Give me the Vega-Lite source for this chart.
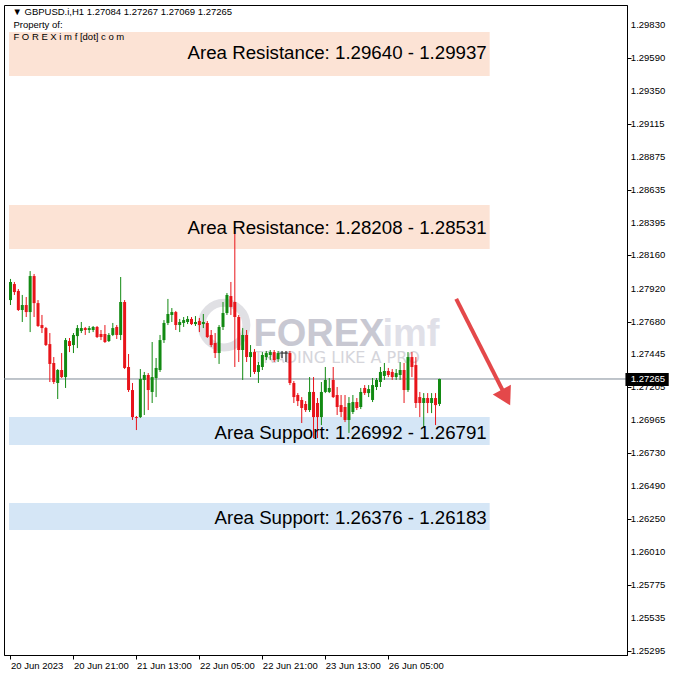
{
  "$schema": "https://vega.github.io/schema/vega-lite/v6.json",
  "width": 623,
  "height": 650,
  "autosize": {"type": "none"},
  "padding": {"left": 4, "top": 5, "right": 51, "bottom": 23},
  "background": "white",
  "config": {
    "view": {"stroke": "#000000", "strokeWidth": 1},
    "axis": {"domainColor": "#000000", "tickColor": "#000000", "labelColor": "#000000", "labelFont": "Liberation Sans", "labelFontSize": 9.5, "grid": false, "labelOverlap": false, "labelFlush": false, "labelBound": false}
  },
  "datasets": {
    "zones": [
      {"x1": -0.375, "x2": 121.75, "p1": 1.29779, "p2": 1.2946, "kind": "R"},
      {"x1": -0.375, "x2": 121.75, "p1": 1.28526, "p2": 1.28207, "kind": "R"},
      {"x1": -0.375, "x2": 121.75, "p1": 1.26989, "p2": 1.26787, "kind": "S"},
      {"x1": -0.375, "x2": 121.75, "p1": 1.26366, "p2": 1.26171, "kind": "S"}
    ],
    "yTicks": [
      {"x": 157.625, "v": 1.2983}, {"x": 157.625, "v": 1.2959}, {"x": 157.625, "v": 1.2935}, {"x": 157.625, "v": 1.29115},
      {"x": 157.625, "v": 1.28875}, {"x": 157.625, "v": 1.28635}, {"x": 157.625, "v": 1.28395}, {"x": 157.625, "v": 1.2816},
      {"x": 157.625, "v": 1.2792}, {"x": 157.625, "v": 1.2768}, {"x": 157.625, "v": 1.27445}, {"x": 157.625, "v": 1.27205},
      {"x": 157.625, "v": 1.26965}, {"x": 157.625, "v": 1.2673}, {"x": 157.625, "v": 1.2649}, {"x": 157.625, "v": 1.2625},
      {"x": 157.625, "v": 1.2601}, {"x": 157.625, "v": 1.25775}, {"x": 157.625, "v": 1.25535}, {"x": 157.625, "v": 1.25295}
    ],
    "zoneLabels": [
      {"x": 121, "p": 1.29627, "t": "Area Resistance: 1.29640 - 1.29937"},
      {"x": 121, "p": 1.28359, "t": "Area Resistance: 1.28208 - 1.28531"},
      {"x": 121, "p": 1.26874, "t": "Area Support: 1.26992 - 1.26791"},
      {"x": 121, "p": 1.26258, "t": "Area Support: 1.26376 - 1.26183"}
    ],
    "logo": [{"x": 54.25, "p": 1.27656}],
    "wmBig": [{"x": 61.75, "p": 1.27504, "t": "FOREX"}],
    "wmImf": [{"x": 94.5, "p": 1.27504, "t": "imf"}],
    "wmSmall": [{"x": 61.75, "p": 1.27415, "t": "TRADING LIKE A PRO"}],
    "header": [
      {"x": 0.5, "p": 1.29924, "t": "▼  GBPUSD.i,H1  1.27084 1.27267 1.27069 1.27265"},
      {"x": 0.75, "p": 1.2983, "t": "Property of:"},
      {"x": 0.75, "p": 1.29743, "t": "F O R E X i m f [dot] c o m"}
    ],
    "priceLine": [{"p": 1.27265}],
    "arrowLine": [{"x1": 113.25, "p1": 1.27845, "x2": 125.25, "p2": 1.27171}],
    "arrowHead": [{"x": 125.9, "p": 1.27131}],
    "priceBox": [{"x1": 156.25, "x2": 167.25, "p1": 1.27308, "p2": 1.27214}],
    "priceText": [{"x": 157.6, "p": 1.27262, "t": "1.27265"}],
    "candles": [
      {"i":0,"o":1.27837,"h":1.2799,"l":1.27801,"c":1.27968},
      {"i":1,"o":1.27953,"h":1.27968,"l":1.27874,"c":1.27895},
      {"i":2,"o":1.27903,"h":1.27917,"l":1.27758,"c":1.27765},
      {"i":3,"o":1.27765,"h":1.27874,"l":1.27678,"c":1.27801},
      {"i":4,"o":1.27801,"h":1.27859,"l":1.27714,"c":1.2775},
      {"i":5,"o":1.2775,"h":1.28047,"l":1.27605,"c":1.28011},
      {"i":6,"o":1.28011,"h":1.28026,"l":1.27714,"c":1.27815},
      {"i":7,"o":1.27815,"h":1.27837,"l":1.27642,"c":1.27649},
      {"i":8,"o":1.27656,"h":1.27729,"l":1.27598,"c":1.27634},
      {"i":9,"o":1.27634,"h":1.27642,"l":1.27504,"c":1.27511},
      {"i":10,"o":1.27518,"h":1.27598,"l":1.27243,"c":1.27374},
      {"i":11,"o":1.27381,"h":1.27424,"l":1.27229,"c":1.27243},
      {"i":12,"o":1.27236,"h":1.27337,"l":1.2712,"c":1.2733},
      {"i":13,"o":1.2733,"h":1.27453,"l":1.27272,"c":1.27279},
      {"i":14,"o":1.27279,"h":1.27562,"l":1.272,"c":1.27547},
      {"i":15,"o":1.2754,"h":1.27562,"l":1.2746,"c":1.27504},
      {"i":16,"o":1.27511,"h":1.27598,"l":1.27453,"c":1.27584},
      {"i":17,"o":1.27576,"h":1.27656,"l":1.27489,"c":1.27634},
      {"i":18,"o":1.27613,"h":1.27678,"l":1.27598,"c":1.27634},
      {"i":19,"o":1.27634,"h":1.27642,"l":1.27584,"c":1.2762},
      {"i":20,"o":1.2762,"h":1.27649,"l":1.27598,"c":1.27634},
      {"i":21,"o":1.2762,"h":1.27649,"l":1.27605,"c":1.27642},
      {"i":22,"o":1.27642,"h":1.27649,"l":1.27562,"c":1.27569},
      {"i":23,"o":1.27591,"h":1.2762,"l":1.27547,"c":1.27569},
      {"i":24,"o":1.27591,"h":1.27656,"l":1.27526,"c":1.27533},
      {"i":25,"o":1.2754,"h":1.27598,"l":1.27533,"c":1.27584},
      {"i":26,"o":1.27584,"h":1.27671,"l":1.27576,"c":1.27634},
      {"i":27,"o":1.27642,"h":1.27656,"l":1.27555,"c":1.27584},
      {"i":28,"o":1.27584,"h":1.28004,"l":1.27547,"c":1.27823},
      {"i":29,"o":1.27823,"h":1.27837,"l":1.27337,"c":1.27345},
      {"i":30,"o":1.27352,"h":1.27446,"l":1.27171,"c":1.27185},
      {"i":31,"o":1.27185,"h":1.27236,"l":1.26968,"c":1.26989},
      {"i":32,"o":1.26989,"h":1.26997,"l":1.26895,"c":1.26982},
      {"i":33,"o":1.26989,"h":1.27337,"l":1.26982,"c":1.27265},
      {"i":34,"o":1.27258,"h":1.27316,"l":1.27004,"c":1.27294},
      {"i":35,"o":1.27294,"h":1.27308,"l":1.2704,"c":1.27185},
      {"i":36,"o":1.27171,"h":1.27533,"l":1.27091,"c":1.27279},
      {"i":37,"o":1.27272,"h":1.27417,"l":1.27134,"c":1.27345},
      {"i":38,"o":1.2733,"h":1.27584,"l":1.27316,"c":1.27547},
      {"i":39,"o":1.27547,"h":1.27692,"l":1.27526,"c":1.27671},
      {"i":40,"o":1.27671,"h":1.27845,"l":1.27656,"c":1.27736},
      {"i":41,"o":1.27729,"h":1.27779,"l":1.27678,"c":1.2775},
      {"i":42,"o":1.2775,"h":1.27758,"l":1.2762,"c":1.27656},
      {"i":43,"o":1.27656,"h":1.277,"l":1.27605,"c":1.27678},
      {"i":44,"o":1.27671,"h":1.27714,"l":1.27642,"c":1.27692},
      {"i":45,"o":1.27678,"h":1.27721,"l":1.27663,"c":1.277},
      {"i":46,"o":1.277,"h":1.27714,"l":1.27656,"c":1.27663},
      {"i":47,"o":1.27663,"h":1.27721,"l":1.27649,"c":1.27678},
      {"i":48,"o":1.27685,"h":1.27707,"l":1.27605,"c":1.27656},
      {"i":49,"o":1.27663,"h":1.27736,"l":1.27634,"c":1.27678},
      {"i":50,"o":1.27671,"h":1.27685,"l":1.27562,"c":1.27569},
      {"i":51,"o":1.27584,"h":1.2762,"l":1.27497,"c":1.27511},
      {"i":52,"o":1.27526,"h":1.27598,"l":1.27417,"c":1.27453},
      {"i":53,"o":1.27453,"h":1.27656,"l":1.27374,"c":1.27642},
      {"i":54,"o":1.27642,"h":1.27823,"l":1.2762,"c":1.27743},
      {"i":55,"o":1.27743,"h":1.27888,"l":1.27729,"c":1.27874},
      {"i":56,"o":1.27866,"h":1.27968,"l":1.27729,"c":1.27787},
      {"i":57,"o":1.27823,"h":1.28359,"l":1.27352,"c":1.27714},
      {"i":58,"o":1.27714,"h":1.27729,"l":1.27388,"c":1.27475},
      {"i":59,"o":1.27475,"h":1.27634,"l":1.27258,"c":1.27584},
      {"i":60,"o":1.27584,"h":1.2762,"l":1.27388,"c":1.27424},
      {"i":61,"o":1.27424,"h":1.27511,"l":1.27279,"c":1.2746},
      {"i":62,"o":1.2746,"h":1.27482,"l":1.27301,"c":1.27316},
      {"i":63,"o":1.27316,"h":1.27388,"l":1.27236,"c":1.27366},
      {"i":64,"o":1.27352,"h":1.2746,"l":1.2733,"c":1.27439},
      {"i":65,"o":1.27424,"h":1.27468,"l":1.27402,"c":1.27453},
      {"i":66,"o":1.27439,"h":1.27475,"l":1.27402,"c":1.2746},
      {"i":67,"o":1.2746,"h":1.27475,"l":1.27388,"c":1.27402},
      {"i":68,"o":1.2741,"h":1.27468,"l":1.27388,"c":1.27453},
      {"i":69,"o":1.27453,"h":1.27468,"l":1.27417,"c":1.27453},
      {"i":70,"o":1.27453,"h":1.27468,"l":1.27388,"c":1.27453},
      {"i":71,"o":1.27453,"h":1.27468,"l":1.27221,"c":1.27236},
      {"i":72,"o":1.27236,"h":1.2725,"l":1.27091,"c":1.27134},
      {"i":73,"o":1.27149,"h":1.27163,"l":1.27069,"c":1.27105},
      {"i":74,"o":1.27113,"h":1.27134,"l":1.26946,"c":1.27055},
      {"i":75,"o":1.27084,"h":1.27105,"l":1.27026,"c":1.2704},
      {"i":76,"o":1.2704,"h":1.27279,"l":1.27026,"c":1.27171},
      {"i":77,"o":1.27171,"h":1.27279,"l":1.26837,"c":1.26989},
      {"i":78,"o":1.27091,"h":1.27127,"l":1.26837,"c":1.26989},
      {"i":79,"o":1.26989,"h":1.27243,"l":1.26931,"c":1.27171},
      {"i":80,"o":1.27171,"h":1.27352,"l":1.27163,"c":1.27258},
      {"i":81,"o":1.27171,"h":1.27272,"l":1.27163,"c":1.272},
      {"i":82,"o":1.27258,"h":1.27352,"l":1.27127,"c":1.27134},
      {"i":83,"o":1.27149,"h":1.27207,"l":1.27004,"c":1.27062},
      {"i":84,"o":1.27076,"h":1.27149,"l":1.26989,"c":1.27026},
      {"i":85,"o":1.27062,"h":1.27149,"l":1.26953,"c":1.26968},
      {"i":86,"o":1.26968,"h":1.27134,"l":1.26874,"c":1.27091},
      {"i":87,"o":1.27026,"h":1.27149,"l":1.27011,"c":1.27098},
      {"i":88,"o":1.27098,"h":1.27127,"l":1.2704,"c":1.27055},
      {"i":89,"o":1.27062,"h":1.272,"l":1.27047,"c":1.27171},
      {"i":90,"o":1.272,"h":1.27221,"l":1.27149,"c":1.27163},
      {"i":91,"o":1.27163,"h":1.27221,"l":1.27134,"c":1.27192},
      {"i":92,"o":1.27113,"h":1.27272,"l":1.27098,"c":1.27221},
      {"i":93,"o":1.27207,"h":1.27272,"l":1.27185,"c":1.27258},
      {"i":94,"o":1.27243,"h":1.27352,"l":1.27207,"c":1.27316},
      {"i":95,"o":1.27287,"h":1.27381,"l":1.27258,"c":1.27323},
      {"i":96,"o":1.27323,"h":1.27345,"l":1.27279,"c":1.27294},
      {"i":97,"o":1.27316,"h":1.27337,"l":1.27258,"c":1.27279},
      {"i":98,"o":1.27279,"h":1.27337,"l":1.27258,"c":1.27308},
      {"i":99,"o":1.27294,"h":1.27388,"l":1.27258,"c":1.2733},
      {"i":100,"o":1.2733,"h":1.27381,"l":1.27091,"c":1.27185},
      {"i":101,"o":1.27185,"h":1.2746,"l":1.27171,"c":1.27424},
      {"i":102,"o":1.27424,"h":1.2746,"l":1.27279,"c":1.27352},
      {"i":103,"o":1.27366,"h":1.27424,"l":1.27055,"c":1.27091},
      {"i":104,"o":1.27134,"h":1.27171,"l":1.26989,"c":1.27091},
      {"i":105,"o":1.27091,"h":1.27163,"l":1.26917,"c":1.27127},
      {"i":106,"o":1.27127,"h":1.27163,"l":1.27018,"c":1.27091},
      {"i":107,"o":1.27091,"h":1.27163,"l":1.27018,"c":1.27127},
      {"i":108,"o":1.27127,"h":1.27163,"l":1.26931,"c":1.27076},
      {"i":109,"o":1.27084,"h":1.27267,"l":1.27069,"c":1.27265}
    ]
  },
  "layer": [
    {
      "data": {"name": "zones"},
      "mark": {"type": "rect"},
      "encoding": {
        "x": {"field": "x1", "type": "quantitative", "title": null, "scale": {"domain": [-0.375, 155.375], "nice": false, "zero": false},
          "axis": {"values": [0, 16, 32, 48, 64, 80, 96], "labelExpr": "datum.value == 0 ? '20 Jun 2023' : datum.value == 16 ? '20 Jun 21:00' : datum.value == 32 ? '21 Jun 13:00' : datum.value == 48 ? '22 Jun 05:00' : datum.value == 64 ? '22 Jun 21:00' : datum.value == 80 ? '23 Jun 13:00' : '26 Jun 05:00'", "labelAlign": "left", "labelBaseline": "top", "labelFlush": false, "labelOverlap": false, "tickSize": 4, "labelPadding": 1, "title": null}},
        "x2": {"field": "x2"},
        "y": {"field": "p1", "type": "quantitative", "title": null, "scale": {"domain": [1.25265, 1.29975], "nice": false, "zero": false},
          "axis": {"orient": "right", "values": [1.2983, 1.2959, 1.2935, 1.29115, 1.28875, 1.28635, 1.28395, 1.2816, 1.2792, 1.2768, 1.27445, 1.27205, 1.26965, 1.2673, 1.2649, 1.2625, 1.2601, 1.25775, 1.25535, 1.25295], "labels": false, "tickSize": 4, "title": null}},
        "y2": {"field": "p2"},
        "color": {"field": "kind", "type": "nominal", "scale": {"domain": ["R", "S"], "range": ["#fce3d5", "#d5e6f6"]}, "legend": null}
      }
    },
    {
      "data": {"name": "yTicks"},
      "mark": {"type": "text", "align": "left", "baseline": "middle", "font": "Liberation Sans", "fontSize": 9.5, "color": "#000000"},
      "encoding": {
        "x": {"field": "x", "type": "quantitative", "title": null, "scale": {"domain": [-0.375, 155.375], "nice": false, "zero": false}},
        "y": {"field": "v", "type": "quantitative", "title": null, "scale": {"domain": [1.25265, 1.29975], "nice": false, "zero": false}},
        "text": {"field": "v", "type": "quantitative", "format": ".5f"}
      }
    },
    {
      "data": {"name": "logo"},
      "mark": {"type": "point", "shape": "circle", "filled": false, "size": 2000, "strokeWidth": 8, "color": "#d3d3da"},
      "encoding": {
        "x": {"field": "x", "type": "quantitative", "title": null, "scale": {"domain": [-0.375, 155.375], "nice": false, "zero": false}},
        "y": {"field": "p", "type": "quantitative", "title": null, "scale": {"domain": [1.25265, 1.29975], "nice": false, "zero": false}}
      }
    },
    {
      "data": {"name": "wmBig"},
      "mark": {"type": "text", "align": "left", "baseline": "alphabetic", "font": "Liberation Sans", "fontWeight": "bold", "fontSize": 38, "color": "#c8c8d2"},
      "encoding": {
        "x": {"field": "x", "type": "quantitative", "title": null, "scale": {"domain": [-0.375, 155.375], "nice": false, "zero": false}},
        "y": {"field": "p", "type": "quantitative", "title": null, "scale": {"domain": [1.25265, 1.29975], "nice": false, "zero": false}},
        "text": {"field": "t"}
      }
    },
    {
      "data": {"name": "wmImf"},
      "mark": {"type": "text", "align": "left", "baseline": "alphabetic", "font": "Liberation Sans", "fontWeight": "bold", "fontSize": 38, "color": "#e0e0e8"},
      "encoding": {
        "x": {"field": "x", "type": "quantitative", "title": null, "scale": {"domain": [-0.375, 155.375], "nice": false, "zero": false}},
        "y": {"field": "p", "type": "quantitative", "title": null, "scale": {"domain": [1.25265, 1.29975], "nice": false, "zero": false}},
        "text": {"field": "t"}
      }
    },
    {
      "data": {"name": "wmSmall"},
      "mark": {"type": "text", "align": "left", "baseline": "middle", "font": "DejaVu Sans", "fontSize": 16, "color": "#d5d5db"},
      "encoding": {
        "x": {"field": "x", "type": "quantitative", "title": null, "scale": {"domain": [-0.375, 155.375], "nice": false, "zero": false}},
        "y": {"field": "p", "type": "quantitative", "title": null, "scale": {"domain": [1.25265, 1.29975], "nice": false, "zero": false}},
        "text": {"field": "t"}
      }
    },
    {
      "data": {"name": "priceLine"},
      "mark": {"type": "rule", "color": "#7f8a96", "strokeWidth": 1},
      "encoding": {
        "y": {"field": "p", "type": "quantitative", "title": null, "scale": {"domain": [1.25265, 1.29975], "nice": false, "zero": false}}
      }
    },
    {
      "data": {"name": "candles"},
      "mark": {"type": "rule", "strokeWidth": 1},
      "encoding": {
        "x": {"field": "i", "type": "quantitative", "title": null, "scale": {"domain": [-0.375, 155.375], "nice": false, "zero": false}},
        "y": {"field": "l", "type": "quantitative", "title": null, "scale": {"domain": [1.25265, 1.29975], "nice": false, "zero": false}},
        "y2": {"field": "h"},
        "color": {"condition": [{"test": "datum.c > datum.o", "value": "#128a12"}, {"test": "datum.c < datum.o", "value": "#e8141a"}], "value": "#000000"}
      }
    },
    {
      "data": {"name": "candles"},
      "mark": {"type": "bar", "width": 3},
      "encoding": {
        "x": {"field": "i", "type": "quantitative", "title": null, "scale": {"domain": [-0.375, 155.375], "nice": false, "zero": false}},
        "y": {"field": "o", "type": "quantitative", "title": null, "scale": {"domain": [1.25265, 1.29975], "nice": false, "zero": false}},
        "y2": {"field": "c"},
        "color": {"condition": [{"test": "datum.c > datum.o", "value": "#128a12"}, {"test": "datum.c < datum.o", "value": "#e8141a"}], "value": "#000000"}
      }
    },
    {
      "data": {"name": "candles"},
      "transform": [{"filter": "datum.c == datum.o"}],
      "mark": {"type": "tick", "orient": "horizontal", "size": 5, "thickness": 1, "color": "#000000"},
      "encoding": {
        "x": {"field": "i", "type": "quantitative", "title": null, "scale": {"domain": [-0.375, 155.375], "nice": false, "zero": false}},
        "y": {"field": "o", "type": "quantitative", "title": null, "scale": {"domain": [1.25265, 1.29975], "nice": false, "zero": false}}
      }
    },
    {
      "data": {"name": "arrowLine"},
      "mark": {"type": "rule", "color": "#e4484a", "strokeWidth": 4, "strokeCap": "butt"},
      "encoding": {
        "x": {"field": "x1", "type": "quantitative", "title": null, "scale": {"domain": [-0.375, 155.375], "nice": false, "zero": false}},
        "y": {"field": "p1", "type": "quantitative", "title": null, "scale": {"domain": [1.25265, 1.29975], "nice": false, "zero": false}},
        "x2": {"field": "x2"},
        "y2": {"field": "p2"}
      }
    },
    {
      "data": {"name": "arrowHead"},
      "mark": {"type": "point", "shape": "triangle-down", "filled": true, "size": 420, "angle": 332, "color": "#e4484a", "opacity": 1},
      "encoding": {
        "x": {"field": "x", "type": "quantitative", "title": null, "scale": {"domain": [-0.375, 155.375], "nice": false, "zero": false}},
        "y": {"field": "p", "type": "quantitative", "title": null, "scale": {"domain": [1.25265, 1.29975], "nice": false, "zero": false}}
      }
    },
    {
      "data": {"name": "zoneLabels"},
      "mark": {"type": "text", "align": "right", "baseline": "middle", "font": "Liberation Sans", "fontSize": 18.7, "color": "#000000"},
      "encoding": {
        "x": {"field": "x", "type": "quantitative", "title": null, "scale": {"domain": [-0.375, 155.375], "nice": false, "zero": false}},
        "y": {"field": "p", "type": "quantitative", "title": null, "scale": {"domain": [1.25265, 1.29975], "nice": false, "zero": false}},
        "text": {"field": "t"}
      }
    },
    {
      "data": {"name": "header"},
      "mark": {"type": "text", "align": "left", "baseline": "middle", "font": "Liberation Sans", "fontSize": 9.5, "color": "#000000"},
      "encoding": {
        "x": {"field": "x", "type": "quantitative", "title": null, "scale": {"domain": [-0.375, 155.375], "nice": false, "zero": false}},
        "y": {"field": "p", "type": "quantitative", "title": null, "scale": {"domain": [1.25265, 1.29975], "nice": false, "zero": false}},
        "text": {"field": "t"}
      }
    },
    {
      "data": {"name": "priceBox"},
      "mark": {"type": "rect", "color": "#000000"},
      "encoding": {
        "x": {"field": "x1", "type": "quantitative", "title": null, "scale": {"domain": [-0.375, 155.375], "nice": false, "zero": false}},
        "x2": {"field": "x2"},
        "y": {"field": "p1", "type": "quantitative", "title": null, "scale": {"domain": [1.25265, 1.29975], "nice": false, "zero": false}},
        "y2": {"field": "p2"}
      }
    },
    {
      "data": {"name": "priceText"},
      "mark": {"type": "text", "align": "left", "baseline": "middle", "font": "Liberation Sans", "fontSize": 9.5, "color": "#ffffff"},
      "encoding": {
        "x": {"field": "x", "type": "quantitative", "title": null, "scale": {"domain": [-0.375, 155.375], "nice": false, "zero": false}},
        "y": {"field": "p", "type": "quantitative", "title": null, "scale": {"domain": [1.25265, 1.29975], "nice": false, "zero": false}},
        "text": {"field": "t"}
      }
    }
  ]
}
